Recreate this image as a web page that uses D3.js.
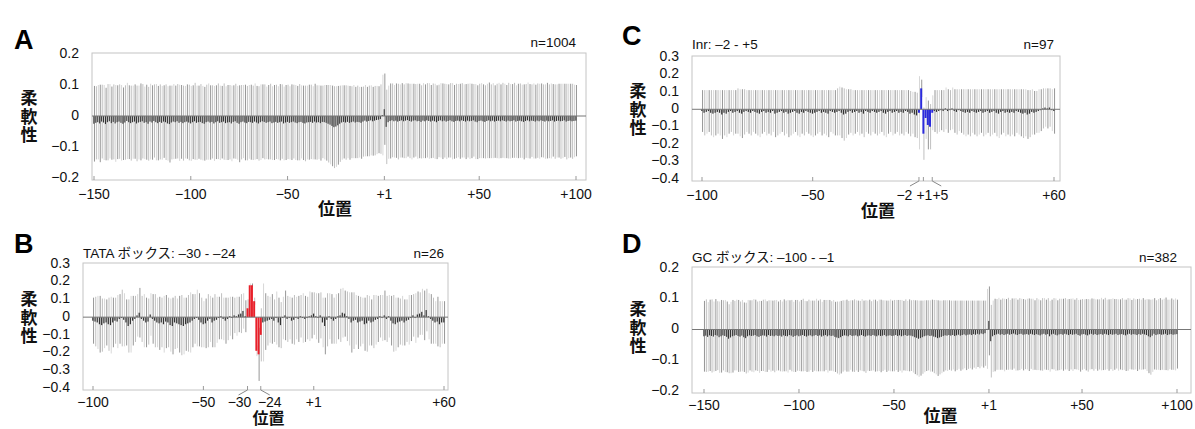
<!DOCTYPE html>
<html><head><meta charset="utf-8">
<script src="https://cdn.jsdelivr.net/npm/d3@7"></script>
<style>body{margin:0;background:#fff}svg{display:block}text{font-family:"Liberation Sans","Noto Sans CJK JP",sans-serif}</style>
</head><body><svg id="c" width="1195" height="429"></svg>
<script>
// positions (promoter numbering skips 0)
const posLong = [...d3.range(-150,0), ...d3.range(1,101)];
const posShort = [...d3.range(-100,0), ...d3.range(1,61)];

const meanA = [
-.025,-.022,-.02,-.024,-.018,-.021,-.026,-.02,-.017,-.023,
-.019,-.024,-.02,-.018,-.022,-.025,-.021,-.016,-.02,-.023,
-.02,-.018,-.024,-.021,-.019,-.017,-.022,-.02,-.025,-.018,
-.021,-.016,-.02,-.023,-.019,-.022,-.018,-.02,-.024,-.026,
-.021,-.018,-.02,-.017,-.022,-.019,-.023,-.02,-.018,-.021,
-.024,-.02,-.017,-.022,-.02,-.019,-.023,-.025,-.02,-.018,
-.021,-.019,-.024,-.02,-.017,-.022,-.02,-.018,-.023,-.021,
-.02,-.024,-.019,-.017,-.022,-.025,-.02,-.018,-.021,-.023,
-.019,-.02,-.022,-.018,-.021,-.024,-.02,-.017,-.019,-.022,
-.02,-.018,-.023,-.021,-.019,-.022,-.02,-.018,-.024,-.021,
-.019,-.022,-.02,-.018,-.021,-.023,-.02,-.019,-.022,-.024,
-.021,-.02,-.019,-.022,-.018,-.021,-.02,-.023,-.019,-.02,
-.022,-.025,-.028,-.032,-.036,-.034,-.03,-.025,-.021,-.019,
-.021,-.019,-.022,-.02,-.018,-.021,-.019,-.02,-.022,-.018,
-.015,-.018,-.016,-.014,-.017,-.015,-.013,-.012,-.01,.003,
.022,-.035,-.02,-.016,-.014,-.017,-.015,-.018,-.016,-.014,
-.017,-.015,-.013,-.016,-.018,-.015,-.014,-.017,-.016,-.019,
-.015,-.017,-.014,-.016,-.018,-.015,-.017,-.02,-.016,-.014,
-.017,-.015,-.018,-.016,-.014,-.017,-.019,-.016,-.015,-.017,
-.014,-.016,-.018,-.015,-.017,-.016,-.014,-.018,-.02,-.016,
-.015,-.017,-.019,-.016,-.014,-.017,-.015,-.018,-.016,-.015,
-.017,-.014,-.016,-.018,-.015,-.017,-.016,-.014,-.018,-.016,
-.015,-.017,-.019,-.016,-.014,-.017,-.015,-.016,-.018,-.015,
-.017,-.014,-.016,-.018,-.015,-.017,-.016,-.014,-.018,-.016,
-.015,-.017,-.016,-.014,-.018,-.016,-.015,-.017,-.016,-.015];
const sdA = [
.122,.118,.12,.125,.119,.121,.117,.123,.12,.118,
.121,.124,.119,.12,.122,.117,.12,.123,.119,.121,
.118,.12,.122,.119,.124,.12,.117,.121,.119,.122,
.12,.118,.123,.12,.121,.119,.117,.122,.12,.124,
.119,.121,.118,.12,.123,.119,.121,.117,.12,.122,
.121,.119,.124,.12,.118,.122,.12,.119,.121,.123,
.12,.118,.121,.119,.122,.12,.117,.123,.119,.121,
.12,.122,.118,.121,.119,.124,.12,.118,.122,.12,
.119,.121,.12,.123,.118,.12,.122,.119,.121,.117,
.12,.122,.119,.121,.12,.118,.123,.12,.119,.121,
.12,.118,.122,.119,.121,.12,.123,.118,.12,.122,
.119,.121,.12,.118,.122,.12,.119,.121,.117,.12,
.122,.125,.128,.13,.132,.13,.127,.123,.12,.118,
.12,.117,.119,.116,.118,.115,.117,.114,.116,.113,
.115,.112,.114,.113,.111,.112,.11,.108,.112,.13,
.115,.12,.118,.121,.119,.117,.12,.122,.118,.12,
.119,.121,.118,.12,.122,.119,.117,.121,.12,.118,
.121,.119,.12,.122,.118,.12,.121,.119,.117,.12,
.122,.119,.121,.118,.12,.123,.119,.12,.118,.121,
.12,.118,.121,.119,.122,.12,.117,.121,.119,.12,
.121,.119,.118,.12,.122,.119,.121,.117,.12,.122,
.119,.121,.12,.118,.122,.12,.119,.121,.117,.12,
.12,.118,.121,.119,.122,.12,.117,.121,.119,.12,
.121,.119,.118,.12,.122,.119,.121,.117,.12,.118,
.119,.121,.12,.118,.122,.12,.119,.121,.117,.115];

const meanB = [
-.02,-.025,-.03,-.04,-.045,-.035,-.03,-.04,-.045,-.03,
-.02,-.025,-.01,-.005,-.015,-.03,-.05,-.04,-.02,-.01,
.01,.025,-.01,-.02,-.03,-.025,.015,-.01,-.02,-.03,
-.035,-.03,-.04,-.025,-.03,-.045,-.05,-.03,-.035,-.04,
-.045,-.05,-.04,-.035,-.03,-.02,-.01,-.005,-.015,-.03,
-.04,-.035,-.02,-.01,-.03,-.02,-.015,-.005,.005,-.01,
-.02,-.01,.005,-.005,.01,.005,.015,.02,.035,.005,
.05,.18,.18,.09,-.19,-.21,-.1,-.03,-.025,-.02,
-.015,-.01,-.02,-.005,-.03,-.045,-.005,.01,-.01,-.005,
-.02,-.015,-.005,-.01,.005,-.005,-.01,-.005,.005,.01,
.02,.005,-.005,.01,-.03,-.05,-.015,.005,-.01,-.02,
-.01,.005,.01,.025,.02,.005,-.01,-.03,-.02,-.015,
-.03,-.025,-.02,-.04,-.035,-.02,-.03,-.025,-.015,-.01,
.005,-.005,.01,-.01,.005,-.02,-.035,-.04,-.03,-.025,
-.02,-.03,-.02,-.015,-.005,.01,-.005,.015,.02,.03,
.01,.04,.005,-.01,-.02,-.03,-.025,-.04,-.03,-.03];
const sdB = [
.13,.14,.15,.16,.15,.14,.13,.15,.16,.14,
.13,.15,.14,.16,.15,.13,.15,.16,.14,.13,
.12,.14,.13,.15,.14,.13,.12,.14,.15,.14,
.15,.14,.16,.15,.14,.15,.16,.15,.14,.16,
.17,.16,.15,.16,.17,.15,.14,.16,.15,.14,
.13,.14,.15,.13,.14,.15,.13,.12,.13,.12,
.13,.12,.11,.12,.1,.11,.1,.11,.1,.09,
.05,.01,.01,.02,.03,.15,.15,.22,.16,.14,
.13,.14,.12,.15,.14,.13,.12,.14,.13,.12,
.13,.14,.12,.13,.12,.14,.13,.12,.14,.13,
.12,.13,.14,.13,.14,.16,.15,.13,.14,.13,
.14,.13,.15,.14,.13,.14,.15,.17,.16,.14,
.15,.14,.13,.15,.16,.14,.13,.15,.14,.13,
.12,.13,.14,.13,.12,.14,.16,.15,.14,.13,
.14,.13,.12,.14,.13,.12,.14,.13,.12,.13,
.14,.12,.13,.14,.13,.12,.14,.13,.12,.12];

const meanC = [
-.01,-.02,-.015,-.01,-.02,-.025,-.02,-.015,-.02,-.03,
-.02,-.025,-.015,-.01,-.02,-.015,-.01,-.02,-.025,-.015,
-.01,-.015,-.02,-.01,-.015,-.02,-.025,-.015,-.01,-.02,
-.015,-.02,-.01,-.025,-.02,-.015,-.01,-.02,-.015,-.025,
-.02,-.015,-.01,-.02,-.025,-.015,-.02,-.01,-.015,-.02,
-.025,-.02,-.015,-.01,-.02,-.015,-.02,-.025,-.01,-.015,
-.02,-.015,-.01,-.02,-.03,-.025,-.015,-.01,-.02,-.015,
-.01,-.02,-.015,-.025,-.01,-.015,-.02,-.01,-.015,-.02,
-.015,-.01,-.02,-.025,-.015,-.01,-.02,-.015,-.01,-.02,
-.015,-.02,-.01,-.015,-.025,-.02,-.03,-.035,-.02,.12,
-.14,-.05,-.09,-.1,-.02,-.01,-.015,-.01,-.005,-.01,
.005,-.01,-.005,.005,-.01,-.015,-.005,-.01,-.015,-.02,
-.015,-.02,-.01,-.015,-.02,-.015,-.01,-.02,-.015,-.01,
-.02,-.015,-.01,-.02,-.025,-.015,-.01,-.02,-.015,-.02,
-.015,-.02,-.01,-.015,-.02,-.025,-.02,-.03,-.025,-.015,
-.02,-.015,-.01,-.005,.005,.01,.005,.01,-.005,-.01];
const sdC = [
.12,.13,.125,.12,.13,.135,.13,.125,.13,.14,
.13,.135,.125,.12,.13,.125,.13,.135,.14,.13,
.12,.125,.13,.12,.125,.13,.135,.125,.12,.13,
.125,.13,.12,.135,.13,.125,.12,.13,.125,.135,
.13,.125,.12,.13,.135,.125,.13,.12,.125,.13,
.135,.13,.125,.12,.13,.125,.13,.135,.12,.125,
.13,.135,.14,.145,.15,.14,.13,.125,.13,.125,
.12,.13,.125,.135,.12,.125,.13,.12,.125,.13,
.125,.12,.13,.135,.125,.12,.13,.125,.12,.13,
.125,.13,.12,.125,.13,.12,.13,.13,.21,.05,
.15,.12,.14,.13,.1,.12,.125,.12,.115,.12,
.12,.125,.115,.12,.125,.13,.12,.125,.13,.135,
.13,.135,.125,.13,.135,.13,.125,.135,.13,.125,
.135,.13,.125,.135,.14,.13,.125,.135,.13,.135,
.13,.135,.125,.13,.135,.14,.135,.14,.135,.13,
.125,.12,.125,.12,.115,.11,.115,.11,.12,.13];

const meanD = [
-.022,-.02,-.024,-.019,-.021,-.023,-.018,-.02,-.025,-.022,
-.019,-.021,-.024,-.03,-.026,-.022,-.02,-.018,-.021,-.023,
-.02,-.025,-.028,-.022,-.019,-.021,-.02,-.018,-.022,-.024,
-.021,-.019,-.02,-.023,-.018,-.021,-.02,-.022,-.019,-.021,
-.02,-.023,-.019,-.021,-.022,-.018,-.02,-.024,-.021,-.019,
-.022,-.02,-.018,-.021,-.023,-.02,-.019,-.022,-.02,-.018,
-.021,-.019,-.023,-.02,-.018,-.022,-.019,-.021,-.02,-.024,
-.026,-.028,-.025,-.021,-.019,-.02,-.022,-.018,-.021,-.02,
-.019,-.022,-.02,-.018,-.021,-.023,-.02,-.019,-.021,-.018,
-.02,-.022,-.019,-.021,-.02,-.018,-.022,-.02,-.019,-.021,
-.02,-.018,-.021,-.019,-.022,-.02,-.018,-.021,-.019,-.02,
-.022,-.025,-.027,-.03,-.028,-.025,-.022,-.02,-.019,-.021,
-.02,-.023,-.025,-.028,-.026,-.024,-.021,-.019,-.02,-.018,
-.02,-.018,-.021,-.019,-.017,-.02,-.018,-.016,-.019,-.017,
-.016,-.018,-.015,-.017,-.014,-.016,-.013,-.015,-.012,.002,
.028,-.038,-.022,-.018,-.016,-.014,-.017,-.015,-.018,-.016,
-.014,-.017,-.015,-.013,-.016,-.018,-.015,-.014,-.017,-.016,
-.015,-.017,-.014,-.016,-.018,-.015,-.017,-.019,-.016,-.014,
-.017,-.015,-.022,-.016,-.014,-.017,-.019,-.016,-.015,-.017,
-.014,-.016,-.018,-.015,-.017,-.016,-.014,-.018,-.02,-.016,
-.015,-.017,-.019,-.016,-.014,-.017,-.015,-.018,-.016,-.015,
-.017,-.014,-.016,-.018,-.015,-.017,-.016,-.014,-.018,-.016,
-.015,-.017,-.019,-.016,-.014,-.017,-.015,-.016,-.018,-.015,
-.017,-.014,-.016,-.018,-.022,-.025,-.02,-.014,-.018,-.016,
-.015,-.017,-.016,-.014,-.018,-.016,-.015,-.017,-.016,-.015];
const sdD = [
.115,.118,.113,.116,.119,.114,.117,.112,.116,.118,
.114,.117,.115,.112,.116,.118,.113,.115,.117,.114,
.116,.113,.115,.118,.114,.116,.119,.115,.113,.117,
.114,.116,.118,.115,.113,.116,.114,.117,.115,.112,
.116,.114,.117,.115,.118,.113,.116,.114,.117,.115,
.113,.116,.118,.114,.115,.117,.113,.116,.114,.118,
.115,.117,.113,.116,.114,.118,.115,.113,.116,.114,
.117,.119,.118,.116,.114,.117,.115,.113,.116,.118,
.114,.116,.113,.117,.115,.118,.114,.116,.113,.115,
.117,.114,.116,.118,.115,.113,.116,.114,.117,.115,
.116,.114,.117,.115,.118,.113,.116,.114,.117,.115,
.118,.12,.122,.124,.122,.119,.117,.115,.114,.116,
.117,.119,.121,.123,.12,.118,.116,.114,.115,.113,
.114,.112,.115,.113,.111,.114,.112,.11,.113,.111,
.11,.112,.109,.111,.108,.11,.107,.109,.106,.13,
.112,.118,.116,.118,.115,.117,.114,.116,.118,.115,
.117,.113,.116,.114,.118,.115,.117,.114,.116,.113,
.115,.118,.114,.116,.113,.117,.115,.114,.118,.116,
.114,.117,.115,.113,.116,.118,.114,.116,.115,.117,
.116,.114,.117,.115,.118,.113,.116,.114,.117,.115,
.113,.116,.118,.114,.115,.117,.113,.116,.114,.118,
.115,.117,.113,.116,.114,.118,.115,.113,.116,.114,
.117,.114,.116,.118,.115,.113,.116,.114,.117,.115,
.114,.116,.113,.117,.12,.122,.118,.116,.113,.115,
.117,.114,.116,.118,.115,.113,.116,.114,.117,.112];

const ticksLong = [-150,-100,-50,1,50,100];
const ticksB = [-100,-50,-30,-24,1,60];
const ticksC = [-100,-50,-2,1,5,60];
const yTicks2 = [0.2,0.1,0,-0.1,-0.2];
const yTicks34 = [0.3,0.2,0.1,0,-0.1,-0.2,-0.3,-0.4];

const panels = [
 {L:"A",lx:14,ly:49,box:[92,53,586,180],r:[94,576],pos:posLong,m:meanA,s:sdA,yd:[-0.2,0.2],yt:yTicks2,xt:ticksLong,title:"",ty:0,n:"n=1004",ny:47,hl:null,yl:[29,100],xlY:195,xlabY:211},
 {L:"B",lx:14,ly:253,box:[83,263,448,390],r:[93,444],pos:posShort,m:meanB,s:sdB,yd:[-0.4,0.3],yt:yTicks34,xt:ticksB,title:"TATA ボックス: –30 - –24",ty:258,n:"n=26",ny:258,hl:[-30,-24,"#e8202a"],yl:[29,301],xlY:403,xlabY:420},
 {L:"C",lx:622,ly:45,box:[692,56,1060,181],r:[702,1054],pos:posShort,m:meanC,s:sdC,yd:[-0.4,0.3],yt:yTicks34,xt:ticksC,title:"Inr: –2 - +5",ty:49,n:"n=97",ny:49,hl:[-2,5,"#2b2bdc"],yl:[638,93],xlY:196,xlabY:213},
 {L:"D",lx:622,ly:253,box:[692,267,1191,393],r:[704,1177],pos:posLong,m:meanD,s:sdD,yd:[-0.2,0.2],yt:yTicks2,xt:ticksLong,title:"GC ボックス: –100 - –1",ty:262,n:"n=382",ny:262,hl:null,yl:[638,311],xlY:406,xlabY:418}
];

const svg = d3.select("#c");
const fmtY = v => v===0 ? "0" : (v<0? "−"+d3.format(".1f")(-v) : d3.format(".1f")(v));
const fmtX = v => v===1 ? "+1" : (v<0 ? "−"+(-v) : "+"+v);

panels.forEach(p=>{
  const g = svg.append("g");
  const [x0,y0,x1,y1] = p.box;
  const x = d3.scalePoint().domain(p.pos).range(p.r);
  const y = d3.scaleLinear().domain(p.yd).range([y1-2,y0+1]);
  const step = x.step();
  g.append("rect").attr("x",x0).attr("y",y0).attr("width",x1-x0).attr("height",y1-y0)
    .attr("fill","none").attr("stroke","#c4c4c4").attr("stroke-width",1);
  const data = p.pos.map((d,i)=>({p:d,m:p.m[i],s:p.s[i],i}));
  const isHL = d => p.hl && d.p>=p.hl[0] && d.p<=p.hl[1];
  g.selectAll(".err").data(data).join("line")
    .attr("x1",d=>x(d.p)+step*0.25).attr("x2",d=>x(d.p)+step*0.25)
    .attr("y1",d=>y(d.m+d.s)).attr("y2",d=>y(d.m-d.s))
    .attr("stroke",d=> d.i%3===0 ? "#8a8a8a" : (d.i%3===1 ? "#b9b9b9":"#d2d2d2")).attr("stroke-width",0.9);
  g.selectAll(".bar").data(data).join("rect")
    .attr("x",d=>x(d.p)-step*(isHL(d)?0.45:0.35)).attr("width",d=>step*(isHL(d)? 0.9:0.55))
    .attr("y",d=>y(Math.max(0,d.m))).attr("height",d=>Math.abs(y(d.m)-y(0)))
    .attr("fill",d=>isHL(d)? p.hl[2] : "#333");
  g.append("line").attr("x1",x0).attr("x2",x1).attr("y1",y(0)).attr("y2",y(0)).attr("stroke","#777").attr("stroke-width",1);
  p.xt.forEach(t=>{
    g.append("line").attr("x1",x(t)).attr("x2",x(t)).attr("y1",y1).attr("y2",y1-4).attr("stroke","#999");
  });
  const labs = g.selectAll(".xl").data(p.xt).join("text")
    .attr("x",d=>x(d)).attr("y",p.xlY).attr("text-anchor","middle").attr("dominant-baseline","middle")
    .attr("font-size",14).attr("fill","#111").text(fmtX);
  if(p.hl){
    const a=x(p.hl[0]), b=x(p.hl[1]);
    g.append("path").attr("d",`M${a-9},${y1+5}L${a},${y1}M${b},${y1}L${b+9},${y1+5}`).attr("stroke","#888").attr("fill","none");
    if(p.L==="C"){ labs.filter(d=>d===-2).attr("x",x(1)-19); labs.filter(d=>d===5).attr("x",x(1)+17); labs.filter(d=>d===1).attr("x",x(1)+1);}
    if(p.L==="B"){ labs.filter(d=>d===-30).attr("x",x(-30)-8); labs.filter(d=>d===-24).attr("x",x(-24)+9);}
  }
  g.selectAll(".yl").data(p.yt).join("text")
    .attr("x",x0-13).attr("y",d=>y(d)).attr("text-anchor","end").attr("dominant-baseline","middle")
    .attr("font-size",14).attr("fill","#111").text(fmtY);
  ["柔","軟","性"].forEach((c,k)=>g.append("text").attr("x",p.yl[0]).attr("y",p.yl[1]+k*18.5)
    .attr("text-anchor","middle").attr("dominant-baseline","middle").attr("font-size",17)
    .attr("font-weight","bold").attr("fill","#111").text(c));
  g.append("text").attr("x",(p.r[0]+p.r[1])/2).attr("y",p.xlabY).attr("text-anchor","middle")
    .attr("dominant-baseline","middle").attr("font-size",p.L==="B"?16:17).attr("font-weight","bold").attr("fill","#111").text("位置");
  g.append("text").attr("x",p.lx).attr("y",p.ly).attr("font-size",27).attr("font-weight","bold").attr("fill","#000").text(p.L);
  if(p.title) g.append("text").attr("x",x0).attr("y",p.ty).attr("font-size",13.5).attr("fill","#111").text(p.title);
  g.append("text").attr("x",p.r[1]).attr("y",p.ny).attr("text-anchor","end").attr("font-size",13.5).attr("fill","#111").text(p.n);
});
</script></body></html>
